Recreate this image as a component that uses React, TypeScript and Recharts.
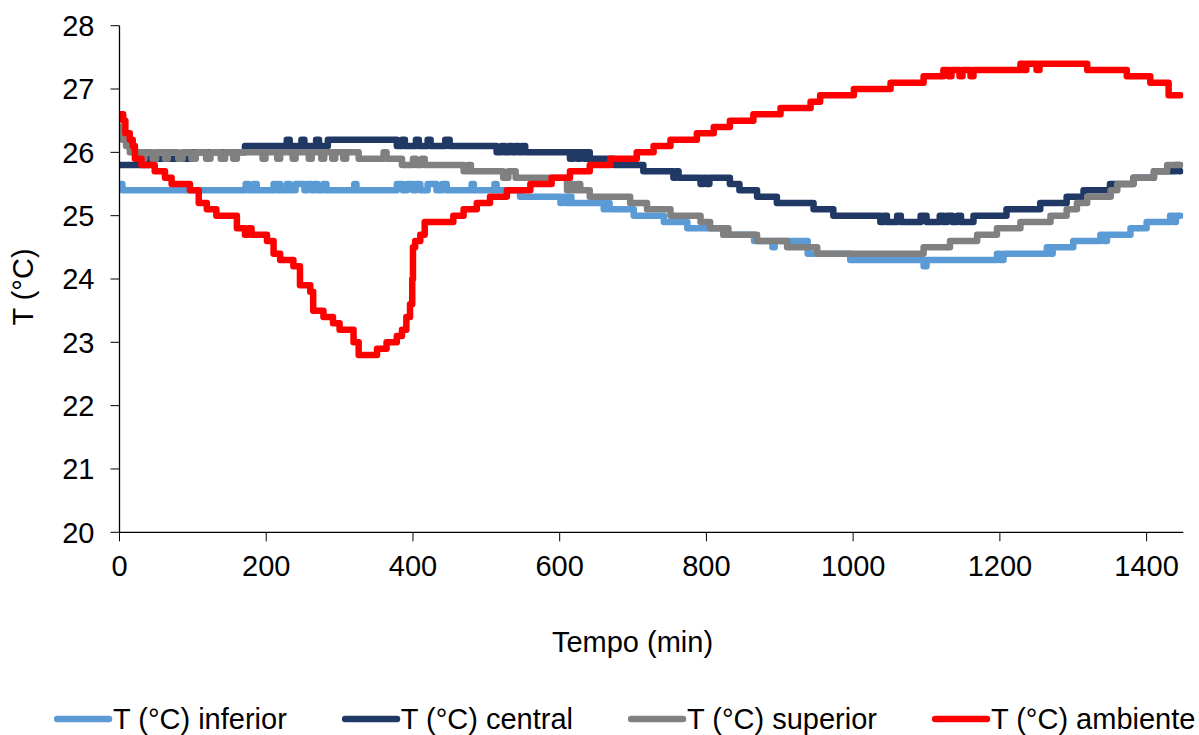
import { Label, Line, LineChart, XAxis, YAxis } from "recharts";

// step breakpoints: [minute, °C]
const inferior: [number, number][] = [
  [0, 25.5], [4, 25.4], [172, 25.5], [176, 25.4], [183, 25.5], [187, 25.4],
  [210, 25.5], [214, 25.4], [216, 25.5], [219, 25.4], [228, 25.5], [232, 25.4],
  [240, 25.5], [252, 25.4], [256, 25.5], [262, 25.4], [266, 25.5], [270, 25.4],
  [278, 25.5], [282, 25.4], [320, 25.5], [323, 25.4], [378, 25.5], [386, 25.4],
  [392, 25.5], [400, 25.4], [404, 25.5], [410, 25.4], [420, 25.5], [432, 25.4],
  [440, 25.5], [446, 25.4], [480, 25.5], [483, 25.4], [511, 25.5], [514, 25.4],
  [546, 25.3], [601, 25.2], [604, 25.3], [610, 25.2], [613, 25.3], [616, 25.2],
  [660, 25.1], [664, 25.2], [668, 25.1], [701, 25.0], [742, 24.9], [774, 24.8],
  [823, 24.7], [865, 24.6], [890, 24.5], [893, 24.6], [938, 24.4], [996, 24.3],
  [1096, 24.2], [1100, 24.3], [1196, 24.4], [1200, 24.3], [1205, 24.4],
  [1264, 24.5], [1268, 24.4], [1272, 24.5], [1300, 24.6], [1337, 24.7],
  [1342, 24.6], [1346, 24.7], [1378, 24.8], [1400, 24.9], [1432, 25.0],
  [1436, 24.9], [1440, 25.0], [1446, 25.0],
];

const central: [number, number][] = [
  [0, 25.8], [40, 25.9], [100, 26.0], [171, 26.1], [228, 26.2], [232, 26.1],
  [248, 26.2], [252, 26.1], [268, 26.2], [272, 26.1], [284, 26.2], [378, 26.1],
  [385, 26.2], [389, 26.1], [404, 26.2], [408, 26.1], [420, 26.2], [424, 26.1],
  [444, 26.2], [450, 26.1], [514, 26.0], [521, 26.1], [525, 26.0], [531, 26.1],
  [535, 26.0], [540, 26.1], [544, 26.0], [549, 26.1], [553, 26.0], [614, 25.9],
  [618, 26.0], [624, 25.9], [628, 26.0], [634, 25.9], [638, 26.0], [641, 25.9],
  [673, 25.8], [714, 25.7], [755, 25.6], [758, 25.7], [762, 25.6], [792, 25.5],
  [796, 25.6], [800, 25.5], [804, 25.6], [832, 25.5], [845, 25.4], [869, 25.3],
  [896, 25.2], [946, 25.1], [973, 25.0], [1037, 24.9], [1042, 25.0], [1046, 24.9],
  [1060, 25.0], [1065, 24.9], [1092, 25.0], [1100, 24.9], [1118, 25.0],
  [1123, 24.9], [1128, 25.0], [1135, 24.9], [1142, 25.0], [1147, 24.9],
  [1164, 25.0], [1209, 25.1], [1255, 25.2], [1291, 25.3], [1314, 25.4],
  [1350, 25.5], [1382, 25.6], [1410, 25.7], [1440, 25.8], [1444, 25.7], [1446, 25.7],
];

const superior: [number, number][] = [
  [0, 26.4], [4, 26.2], [9, 26.1], [14, 26.0], [30, 25.9], [34, 26.0], [45, 25.9],
  [50, 26.0], [62, 25.9], [66, 26.0], [80, 25.9], [86, 26.0], [98, 25.9], [104, 26.0],
  [118, 25.9], [124, 26.0], [138, 25.9], [144, 26.0], [155, 25.9], [160, 26.0],
  [195, 25.9], [199, 26.0], [215, 25.9], [219, 26.0], [236, 25.9], [240, 26.0],
  [258, 25.9], [262, 26.0], [275, 25.9], [279, 26.0], [290, 25.9], [294, 26.0],
  [305, 25.9], [309, 26.0], [326, 25.9], [360, 26.0], [364, 25.9], [385, 25.8],
  [400, 25.9], [404, 25.8], [412, 25.9], [416, 25.8], [469, 25.7], [475, 25.8],
  [479, 25.7], [519, 25.7], [523, 25.6], [530, 25.7], [540, 25.6], [610, 25.4],
  [614, 25.5], [618, 25.4], [624, 25.5], [628, 25.4], [641, 25.3], [696, 25.2],
  [719, 25.1], [751, 25.0], [792, 24.9], [805, 24.8], [823, 24.7], [826, 24.8],
  [830, 24.7], [869, 24.6], [910, 24.5], [951, 24.4], [1096, 24.5], [1132, 24.6],
  [1169, 24.7], [1196, 24.8], [1228, 24.9], [1269, 25.0], [1291, 25.1],
  [1305, 25.2], [1319, 25.3], [1351, 25.4], [1360, 25.5], [1382, 25.6],
  [1410, 25.7], [1428, 25.8], [1446, 25.8],
];

const ambiente: [number, number][] = [
  [0, 26.6], [5, 26.5], [8, 26.3], [14, 26.2], [18, 26.1], [21, 25.9], [30, 25.8],
  [48, 25.7], [62, 25.6], [71, 25.5], [96, 25.4], [108, 25.2], [119, 25.1],
  [132, 25.0], [160, 24.8], [171, 24.7], [176, 24.8], [180, 24.7], [201, 24.6],
  [210, 24.4], [219, 24.3], [237, 24.2], [246, 23.9], [260, 23.8], [264, 23.5],
  [278, 23.4], [291, 23.3], [300, 23.2], [319, 23.0], [326, 22.8], [351, 22.9],
  [364, 23.0], [378, 23.1], [385, 23.2], [391, 23.4], [396, 23.6], [399, 24.0],
  [400, 24.5], [403, 24.6], [410, 24.7], [416, 24.9], [455, 25.0], [469, 25.1],
  [487, 25.2], [505, 25.3], [528, 25.4], [560, 25.5], [589, 25.6], [614, 25.7],
  [641, 25.8], [669, 25.9], [705, 26.0], [728, 26.1], [751, 26.2], [787, 26.3],
  [810, 26.4], [832, 26.5], [864, 26.6], [901, 26.7], [942, 26.8], [955, 26.9],
  [1001, 27.0], [1051, 27.1], [1096, 27.2], [1123, 27.3], [1130, 27.2],
  [1134, 27.3], [1145, 27.2], [1149, 27.3], [1160, 27.2], [1164, 27.3],
  [1228, 27.4], [1232, 27.3], [1236, 27.4], [1250, 27.3], [1254, 27.4],
  [1319, 27.3], [1373, 27.2], [1405, 27.1], [1430, 26.9], [1446, 26.9],
];

const seriesNames = [
  "T (°C) inferior",
  "T (°C) central",
  "T (°C) superior",
  "T (°C) ambiente",
];
const seriesColors = ["#5B9BD5", "#1F3864", "#808080", "#FF0000"];
const seriesPoints = [inferior, central, superior, ambiente];

const xTicks = [0, 200, 400, 600, 800, 1000, 1200, 1400];
const yTicks = [20, 21, 22, 23, 24, 25, 26, 27, 28];

const FONT = "'Liberation Sans', Arial, sans-serif";
const tickStyle = { fontSize: 29, fill: "#000", fontFamily: FONT };

export default function App() {
  return (
    <div
      style={{
        position: "absolute",
        left: 0,
        top: 0,
        width: 1199,
        height: 735,
        background: "#fff",
        fontFamily: FONT,
      }}
    >
      <LineChart
        width={1199}
        height={735}
        margin={{ top: 25.7, right: 15.7, left: 0, bottom: 142.7 }}
      >
        <XAxis
          type="number"
          dataKey="t"
          domain={[0, 1450]}
          ticks={xTicks}
          allowDataOverflow
          height={60}
          tickSize={9}
          tickMargin={13.7}
          tick={tickStyle}
          stroke="#000"
          tickLine={{ stroke: "#000" }}
          axisLine={{ stroke: "#000", strokeWidth: 1.3 }}
        >
          <Label
            content={() => (
              <text
                x={632.5}
                y={652}
                textAnchor="middle"
                fontSize={29}
                fontFamily={FONT}
                fill="#000"
              >
                Tempo (min)
              </text>
            )}
          />
        </XAxis>
        <YAxis
          type="number"
          domain={[20, 28]}
          ticks={yTicks}
          width={119.5}
          tickSize={9}
          tickMargin={16}
          tick={tickStyle}
          stroke="#000"
          tickLine={{ stroke: "#000" }}
          axisLine={{ stroke: "#000", strokeWidth: 1.3 }}
        >
          <Label
            content={() => (
              <text
                x={33.3}
                y={287}
                transform="rotate(-90, 33.3, 287)"
                textAnchor="middle"
                fontSize={29}
                fontFamily={FONT}
                fill="#000"
              >
                T (°C)
              </text>
            )}
          />
        </YAxis>
        {seriesPoints.map((pts, i) => (
          <Line
            key={seriesNames[i]}
            name={seriesNames[i]}
            data={pts.map(([t, v]) => ({ t, v }))}
            dataKey="v"
            type="stepAfter"
            stroke={seriesColors[i]}
            strokeWidth={6.5}
            strokeLinejoin="round"
            strokeLinecap="round"
            dot={false}
            activeDot={false}
            isAnimationActive={false}
          />
        ))}
      </LineChart>
      <div
        style={{
          position: "absolute",
          left: 54,
          top: 700,
          height: 38,
          display: "flex",
          alignItems: "center",
          gap: 55,
          fontSize: 29,
          color: "#000",
          whiteSpace: "nowrap",
        }}
      >
        {seriesNames.map((name, i) => (
          <div key={name} style={{ display: "flex", alignItems: "center" }}>
            <svg width={59} height={10} style={{ marginRight: 0 }}>
              <line
                x1={3}
                y1={5}
                x2={55}
                y2={5}
                stroke={seriesColors[i]}
                strokeWidth={6.5}
                strokeLinecap="round"
              />
            </svg>
            <span>{name}</span>
          </div>
        ))}
      </div>
    </div>
  );
}
